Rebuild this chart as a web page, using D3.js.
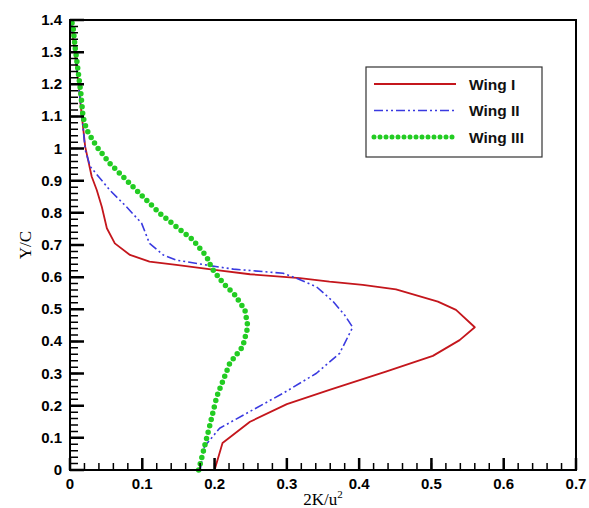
<!DOCTYPE html>
<html>
<head>
<meta charset="utf-8">
<script src="https://cdn.jsdelivr.net/npm/d3@7"></script>
</head>
<body style="margin:0; background:#fff">
<svg id="chart"></svg>
<script>
const width = 589;
const height = 508;

const seriesNames = ["Wing I", "Wing II", "Wing III"];
const seriesColors = ["#c4161c", "#3a3ae0", "#22cc22"];

// Wing I (solid red)
const wing1X = [0.200, 0.211, 0.249, 0.300, 0.359, 0.437, 0.502, 0.539, 0.560, 0.534, 0.509, 0.451, 0.405, 0.359, 0.318, 0.249, 0.203, 0.147, 0.110, 0.083, 0.062, 0.051, 0.044, 0.037, 0.030, 0.025, 0.021, 0.018, 0.015, 0.011, 0.006, 0.001];
const wing1Y = [0.000, 0.084, 0.150, 0.205, 0.249, 0.306, 0.355, 0.404, 0.444, 0.498, 0.524, 0.562, 0.576, 0.586, 0.597, 0.609, 0.622, 0.638, 0.648, 0.669, 0.705, 0.752, 0.819, 0.871, 0.913, 0.965, 1.006, 1.068, 1.130, 1.220, 1.310, 1.400];

// Wing II (dash-dot-dot blue)
const wing2X = [0.180, 0.186, 0.207, 0.244, 0.295, 0.341, 0.373, 0.391, 0.380, 0.364, 0.341, 0.313, 0.295, 0.226, 0.193, 0.147, 0.129, 0.110, 0.099, 0.078, 0.055, 0.028, 0.021, 0.018, 0.015, 0.011, 0.006, 0.001];
const wing2Y = [0.000, 0.073, 0.130, 0.176, 0.239, 0.301, 0.363, 0.444, 0.482, 0.524, 0.570, 0.597, 0.612, 0.625, 0.636, 0.653, 0.669, 0.705, 0.768, 0.819, 0.871, 0.944, 0.996, 1.068, 1.130, 1.220, 1.310, 1.400];

// Wing III (dotted green)
const wing3X = [0.178, 0.193, 0.203, 0.221, 0.239, 0.246, 0.242, 0.228, 0.212, 0.196, 0.189, 0.170, 0.147, 0.124, 0.101, 0.078, 0.055, 0.037, 0.023, 0.018, 0.015, 0.011, 0.007, 0.004, 0.001];
const wing3Y = [0.000, 0.135, 0.228, 0.332, 0.384, 0.446, 0.498, 0.545, 0.581, 0.628, 0.664, 0.716, 0.757, 0.799, 0.850, 0.902, 0.954, 1.006, 1.058, 1.099, 1.172, 1.245, 1.317, 1.385, 1.400];

const xTicks = [0, 0.1, 0.2, 0.3, 0.4, 0.5, 0.6, 0.7];
const yTicks = [0, 0.1, 0.2, 0.3, 0.4, 0.5, 0.6, 0.7, 0.8, 0.9, 1.0, 1.1, 1.2, 1.3, 1.4];

const svg = d3.select("#chart").attr("width", width).attr("height", height);

const x = d3.scaleLinear().domain([0, 0.7]).range([70, 576]);
const y = d3.scaleLinear().domain([0, 1.4]).range([470, 20]);

const fmt = d => (d === 0 ? "0" : d === 1 ? "1" : d3.format(".1f")(d));

const line = d3.line().x(d => x(d[0])).y(d => y(d[1]));

const series = [
  { pts: d3.zip(wing1X, wing1Y), color: seriesColors[0], width: 1.8, dash: null, cap: "butt" },
  { pts: d3.zip(wing2X, wing2Y), color: seriesColors[1], width: 1.6, dash: "9,3,2,3,2,3", cap: "butt" },
  { pts: d3.zip(wing3X, wing3Y), color: seriesColors[2], width: 5.5, dash: "0,6.5", cap: "round" }
];

series.forEach(s => {
  svg.append("path")
    .datum(s.pts)
    .attr("d", line)
    .attr("fill", "none")
    .attr("stroke", s.color)
    .attr("stroke-width", s.width)
    .attr("stroke-linecap", s.cap)
    .attr("stroke-linejoin", "round")
    .attr("stroke-dasharray", s.dash);
});

// tick labels
svg.append("g").selectAll("text").data(xTicks).join("text")
  .attr("x", d => x(d)).attr("y", y(0) + 19)
  .attr("text-anchor", "middle")
  .attr("font-family", "Arial, 'Liberation Sans', sans-serif")
  .attr("font-weight", "bold").attr("font-size", 15)
  .text(fmt);

svg.append("g").selectAll("text").data(yTicks).join("text")
  .attr("x", x(0) - 8).attr("y", d => y(d) + 5)
  .attr("text-anchor", "end")
  .attr("font-family", "Arial, 'Liberation Sans', sans-serif")
  .attr("font-weight", "bold").attr("font-size", 15)
  .text(fmt);

// frame
svg.append("rect")
  .attr("x", x(0)).attr("y", y(1.4))
  .attr("width", x(0.7) - x(0)).attr("height", y(0) - y(1.4))
  .attr("fill", "none").attr("stroke", "#000").attr("stroke-width", 2);

// inward ticks, minor every 0.02
const xMinor = d3.range(0, 0.7001, 0.02);
const yMinor = d3.range(0, 1.4001, 0.02);

svg.append("path")
  .attr("d", xMinor.map(d => `M${x(d)},${y(0)}v-7`).join("") + yMinor.map(d => `M${x(0)},${y(d)}h8`).join(""))
  .attr("fill", "none").attr("stroke", "#000").attr("stroke-width", 1.5);
svg.append("path")
  .attr("d", xTicks.map(d => `M${x(d)},${y(0)}v-12`).join("") + yTicks.map(d => `M${x(0)},${y(d)}h14`).join(""))
  .attr("fill", "none").attr("stroke", "#000").attr("stroke-width", 2.5);

// legend
const legend = svg.append("g").attr("transform", "translate(366,67)");
legend.append("rect")
  .attr("width", 176).attr("height", 90)
  .attr("fill", "#fff").attr("stroke", "#333").attr("stroke-width", 1.2);

series.forEach((s, i) => {
  const ly = 17 + i * 26.5;
  legend.append("line")
    .attr("x1", 8).attr("x2", 90).attr("y1", ly).attr("y2", ly)
    .attr("stroke", s.color)
    .attr("stroke-width", i === 2 ? 5 : s.width)
    .attr("stroke-linecap", s.cap)
    .attr("stroke-dasharray", i === 2 ? "0,6" : s.dash);
  legend.append("text")
    .attr("x", 103).attr("y", ly + 5.5)
    .attr("font-family", "Arial, 'Liberation Sans', sans-serif")
    .attr("font-weight", "bold")
    .attr("font-size", 15.5)
    .attr("fill", "#111")
    .text(seriesNames[i]);
});

// axis titles
svg.append("text")
  .attr("transform", "translate(31,245) rotate(-90)")
  .attr("text-anchor", "middle")
  .attr("font-family", "'Liberation Serif', 'DejaVu Serif', serif")
  .attr("font-size", 17)
  .text("Y/C");

const xt = svg.append("text")
  .attr("x", (x(0) + x(0.7)) / 2)
  .attr("y", 505)
  .attr("text-anchor", "middle")
  .attr("font-family", "'Liberation Serif', 'DejaVu Serif', serif")
  .attr("font-size", 17);
xt.append("tspan").text("2K/u");
xt.append("tspan").attr("font-size", 11).attr("dy", -7).text("2");
</script>
</body>
</html>
